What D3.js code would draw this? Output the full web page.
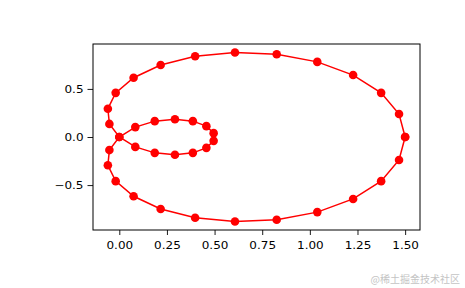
<!DOCTYPE html>
<html>
<head>
<meta charset="utf-8">
<script src="https://cdn.jsdelivr.net/npm/d3@7"></script>
<style>
  body { margin: 0; background: #fff; }
  svg { display: block; }
  .tick text { font-family: "DejaVu Sans", sans-serif; font-size: 10px; fill: #000; }
</style>
</head>
<body>
<svg id="chart" width="465" height="288"></svg>
<script>
// Curve points (in drawing order)
var xValues = [1.5, 1.468, 1.374, 1.227, 1.039, 0.826, 0.607, 0.398, 0.217, 0.075,
    -0.019, -0.060, -0.052, 0.000, 0.084, 0.186, 0.292, 0.386, 0.457, 0.495,
    0.495, 0.457, 0.386, 0.292, 0.186, 0.084, 0.000, -0.052, -0.060, -0.019,
    0.075, 0.217, 0.398, 0.607, 0.826, 1.039, 1.227, 1.374, 1.468, 1.5];
var yValues = [0, 0.239, 0.459, 0.644, 0.781, 0.860, 0.879, 0.839, 0.748, 0.616,
    0.459, 0.294, 0.136, 0.000, -0.103, -0.165, -0.185, -0.165, -0.113, -0.040,
    0.040, 0.113, 0.165, 0.185, 0.165, 0.103, 0.000, -0.136, -0.294, -0.459,
    -0.616, -0.748, -0.839, -0.879, -0.860, -0.781, -0.644, -0.459, -0.239, 0];

var xTicks = [0, 0.25, 0.5, 0.75, 1.0, 1.25, 1.5];
var yTicks = [-0.5, 0, 0.5];

var svg = d3.select("#chart");
var margin = { left: 93, right: 45, top: 44, bottom: 58 };
var width = 465 - margin.left - margin.right;
var height = 288 - margin.top - margin.bottom;

// the reference text is a bit wider than normal (stretched picture)
var stretch = 1.2;

// Matplotlib-style 5% padding around the data
function padded(values)
{
    var ext = d3.extent(values);
    var pad = (ext[1] - ext[0]) * 0.05;
    return [ext[0] - pad, ext[1] + pad];
}

var x = d3.scaleLinear().domain(padded(xValues)).range([0, width]);
var y = d3.scaleLinear().domain(padded(yValues)).range([height, 0]);

var g = svg.append("g").attr("transform", "translate(" + margin.left + "," + margin.top + ")");

var points = xValues.map(function(d, i) { return [d, yValues[i]]; });

// Line through points
var line = d3.line()
    .x(function(d) { return x(d[0]); })
    .y(function(d) { return y(d[1]); });

g.append("path")
    .datum(points)
    .attr("d", line)
    .attr("fill", "none")
    .attr("stroke", "#ff0000")
    .attr("stroke-width", 1.5);

g.selectAll("circle.pt")
    .data(points)
    .enter().append("circle")
    .attr("class", "pt")
    .attr("cx", function(d) { return x(d[0]); })
    .attr("cy", function(d) { return y(d[1]); })
    .attr("r", 4.3)
    .attr("fill", "#ff0000");

// Axes
var fmtX = d3.format(".2f");
var fmtY = function(d) { return d3.format(".1f")(d).replace("-", "\u2212"); };

var xAxis = g.append("g")
    .attr("transform", "translate(0," + height + ")")
    .call(d3.axisBottom(x).tickValues(xTicks).tickFormat(fmtX).tickSize(5).tickPadding(7));
var yAxis = g.append("g")
    .call(d3.axisLeft(y).tickValues(yTicks).tickFormat(fmtY).tickSize(5.5).tickPadding(4));

[xAxis, yAxis].forEach(function(a) {
    a.select(".domain").remove();
    a.selectAll(".tick line").attr("stroke", "#000").attr("stroke-width", 0.9);
});

// widen the tick labels, keeping their anchor point in place
xAxis.selectAll(".tick text").attr("transform", "scale(" + stretch + ",1)");
yAxis.selectAll(".tick text")
    .attr("x", -9.5 / stretch)
    .attr("transform", "scale(" + stretch + ",1)");

// Frame
g.append("rect")
    .attr("width", width)
    .attr("height", height)
    .attr("fill", "none")
    .attr("stroke", "#000")
    .attr("stroke-width", 1);

// Watermark
svg.append("text")
    .attr("x", 460)
    .attr("y", 283)
    .attr("text-anchor", "end")
    .attr("font-family", "Noto Sans CJK SC, sans-serif")
    .attr("font-size", 10)
    .attr("fill", "#c4c4c4")
    .text("@稀土掘金技术社区");
</script>
</body>
</html>
